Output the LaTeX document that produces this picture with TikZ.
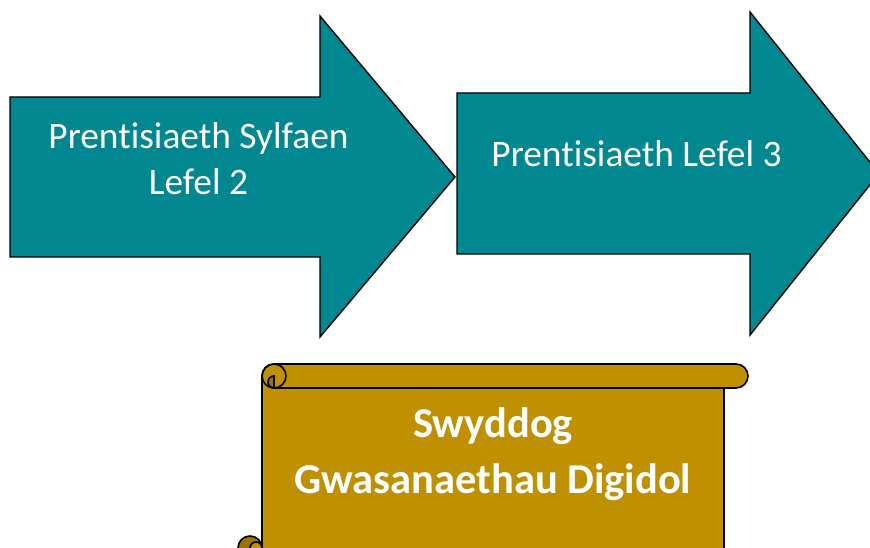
\documentclass[tikz,border=0pt]{standalone}
\usepackage{fontspec}
\setmainfont{Carlito}[Ligatures=NoCommon]

\definecolor{tealfill}{HTML}{00878F}
\definecolor{goldfill}{HTML}{BF9000}
\definecolor{golddark}{HTML}{9A7300}

\begin{document}
\begin{tikzpicture}[
        x=1pt, y=1pt, yscale=-1,
        flowarrow/.style={fill=tealfill, draw=black, line width=1.4pt, line join=miter},
        scrollpart/.style={fill=goldfill, draw=black, line width=1.6pt},
        curlpart/.style={fill=golddark, draw=black, line width=1.6pt},
        arrowtext/.style={text=white, align=center, inner sep=0pt, font=\fontsize{37.4}{46}\selectfont},
        scrolltext/.style={text=white, align=center, inner sep=0pt, font=\bfseries\fontsize{42.5}{56}\selectfont}
    ]
        \useasboundingbox (0,0) rectangle (870,548);

        % De block pijlen
        \draw[flowarrow] (10,97) -- (320,97) -- (320,16) -- (455,177) -- (320,337) -- (320,257) -- (10,257) -- cycle;
        \draw[flowarrow] (457,93) -- (750,93) -- (750,12) -- (879,173.5) -- (750,335) -- (750,254) -- (457,254) -- cycle;

        \node[arrowtext] (lvl2) at (198.5,158.5) {Prentisiaeth Sylfaen\\Lefel 2};
        \node[arrowtext, anchor=base] (lvl3) at (636.5,167) {Prentisiaeth Lefel 3};

        % De rol
        \draw[scrollpart] (262,580) -- (262,376) arc[start angle=180, end angle=270, radius=12]
            -- (736,364) arc[start angle=270, end angle=450, radius=12]
            -- (724,388) -- (724,580) -- cycle;
        \draw[line width=1.6pt] (274,388) -- (724,388);
        \draw[line width=1.6pt] (274,376) circle[radius=12];
        \draw[curlpart] (274,376) arc[start angle=270, end angle=90, radius=6] -- cycle;
        \draw[curlpart] (250,548) circle[radius=12];
        \draw[scrollpart] (256,548) circle[radius=6];

        \node[scrolltext] (job) at (493,454) {Swyddog\\Gwasanaethau Digidol};
    \end{tikzpicture}
\end{document}
